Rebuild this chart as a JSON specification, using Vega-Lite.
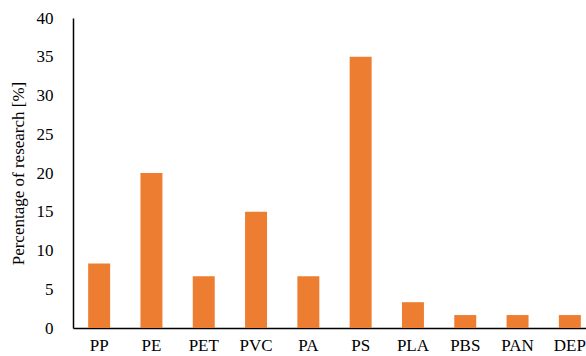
{
  "$schema": "https://vega.github.io/schema/vega-lite/v6.json",
  "width": 523,
  "height": 310,
  "autosize": "none",
  "padding": {"left": 73, "top": 18, "right": 0, "bottom": 28},
  "background": "white",
  "config": {
    "view": {"stroke": null},
    "font": "Liberation Serif",
    "axis": {"grid": false, "ticks": false, "labelFont": "Liberation Serif", "titleFont": "Liberation Serif", "labelColor": "black", "titleColor": "black", "domainColor": "black", "domainWidth": 1.5}
  },
  "data": {
    "values": [
      {"polymer": "PP", "pct": 8.33},
      {"polymer": "PE", "pct": 20},
      {"polymer": "PET", "pct": 6.67},
      {"polymer": "PVC", "pct": 15},
      {"polymer": "PA", "pct": 6.67},
      {"polymer": "PS", "pct": 35},
      {"polymer": "PLA", "pct": 3.33},
      {"polymer": "PBS", "pct": 1.67},
      {"polymer": "PAN", "pct": 1.67},
      {"polymer": "DEP", "pct": 1.67}
    ]
  },
  "mark": {"type": "bar", "color": "#ED7D31"},
  "encoding": {
    "x": {
      "field": "polymer",
      "type": "nominal",
      "sort": null,
      "scale": {"paddingInner": 0.58, "paddingOuter": 0.29},
      "axis": {"title": null, "labelAngle": 0, "labelFontSize": 17, "labelPadding": 9}
    },
    "y": {
      "field": "pct",
      "type": "quantitative",
      "scale": {"domain": [0, 40]},
      "axis": {"values": [0, 5, 10, 15, 20, 25, 30, 35, 40], "title": "Percentage of research [%]", "titleFontSize": 17, "titleFontWeight": "normal", "labelFontSize": 17, "labelPadding": 20, "titlePadding": 9}
    }
  }
}
